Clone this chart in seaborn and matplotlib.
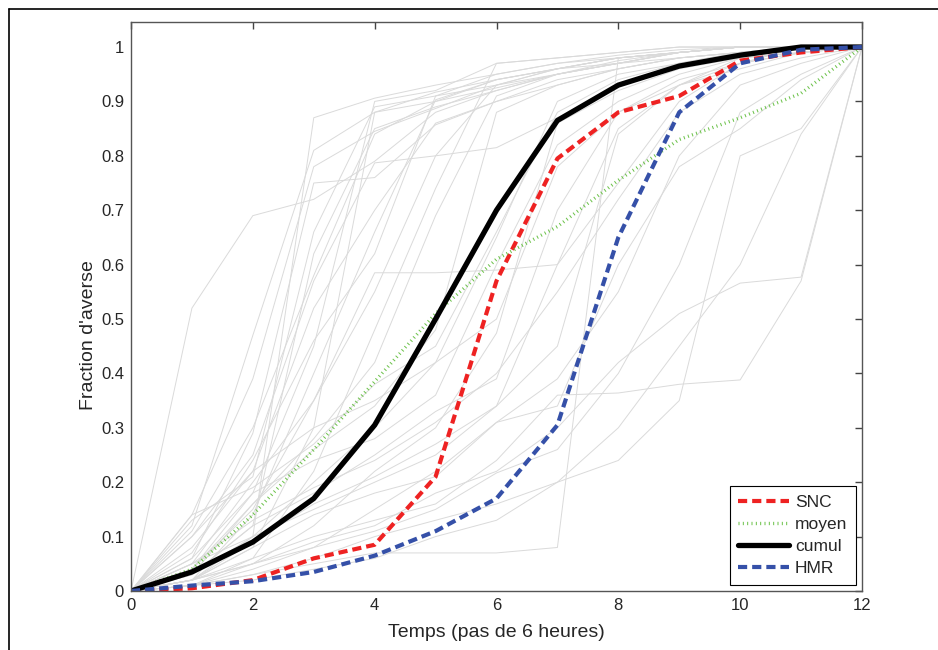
import seaborn as sns
import matplotlib.pyplot as plt
import pandas as pd
from matplotlib.lines import Line2D

# Time steps (6-hour steps)
temps = list(range(13))

# Main curves
snc = [0, 0.005, 0.02, 0.06, 0.085, 0.21, 0.57, 0.795, 0.88, 0.91, 0.975, 0.99, 1.0]
moyen = [0, 0.04, 0.14, 0.26, 0.385, 0.51, 0.61, 0.67, 0.755, 0.83, 0.87, 0.915, 1.0]
cumul = [0, 0.035, 0.09, 0.17, 0.305, 0.5, 0.70, 0.865, 0.93, 0.965, 0.985, 1.0, 1.0]
hmr = [0, 0.01, 0.018, 0.035, 0.065, 0.11, 0.17, 0.305, 0.65, 0.88, 0.97, 0.995, 1.0]

# Individual storms (grey)
storms_fast = [
    [0, .52, .69, .72, .79, .88, .92, .95, .97, .98, .99, 1, 1],
    [0, .05, .10, .87, .906, .93, .95, .97, .98, .99, 1, 1, 1],
    [0, .12, .47, .81, .88, .90, .94, .96, .98, .99, 1, 1, 1],
    [0, .14, .39, .78, .845, .887, .93, .96, .97, .99, 1, 1, 1],
    [0, .06, .29, .75, .76, .857, .90, .94, .96, .98, .99, 1, 1],
    [0, .10, .25, .57, .787, .80, .815, .87, .93, .97, .99, 1, 1],
    [0, .02, .08, .30, .88, .917, .94, .96, .98, .99, 1, 1, 1],
    [0, .04, .18, .45, .90, .92, .97, .98, .99, 1, 1, 1, 1],
    [0, .03, .12, .62, .85, .89, .92, .95, .97, .99, 1, 1, 1],
    [0, .08, .22, .52, .70, .86, .90, .93, .96, .98, .99, 1, 1],
    [0, .02, .14, .40, .66, .903, .94, .96, .98, .99, 1, 1, 1],
    [0, .05, .20, .35, .55, .80, .93, .95, .97, .99, 1, 1, 1],
    [0, .01, .06, .22, .48, .74, .97, .98, .99, 1, 1, 1, 1],
    [0, .11, .30, .58, .84, .90, .925, .95, .975, .99, 1, 1, 1],
    [0, .07, .24, .46, .62, .91, .95, .97, .985, .995, 1, 1, 1],
    [0, .13, .21, .66, .89, .91, .93, .96, .98, .99, 1, 1, 1],
    [0, .04, .16, .28, .42, .69, .91, .95, .97, .99, 1, 1, 1],
]
storms_medium = [
    [0, .04, .15, .35, .585, .585, .59, .60, .75, .90, .97, 1, 1],
    [0, .03, .16, .26, .34, .48, .88, .93, .96, .98, .99, 1, 1],
    [0, .02, .10, .20, .30, .42, .65, .90, .95, .97, .99, 1, 1],
    [0, .06, .18, .24, .28, .36, .60, .82, .90, .95, .98, 1, 1],
    [0, .01, .05, .12, .22, .30, .474, .86, .92, .96, .98, .99, 1],
    [0, .03, .12, .18, .25, .33, .39, .70, .88, .94, .97, .99, 1],
    [0, .02, .09, .16, .21, .27, .34, .60, .85, .93, .97, .99, 1],
    [0, .05, .13, .19, .24, .31, .40, .55, .72, .88, .95, .98, 1],
    [0, .10, .22, .30, .35, .42, .50, .78, .88, .93, .96, .99, 1],
    [0, .14, .19, .27, .38, .45, .66, .88, .94, .97, .99, 1, 1],
]
storms_slow = [
    [0, .01, .03, .05, .07, .07, .07, .08, .98, .99, 1, 1, 1],
    [0, .02, .06, .10, .13, .16, .24, .36, .364, .38, .388, .57, 1],
    [0, .02, .05, .09, .12, .18, .22, .30, .42, .51, .566, .577, 1],
    [0, .01, .04, .08, .15, .22, .31, .39, .55, .80, .93, .97, 1],
    [0, .03, .10, .15, .20, .25, .34, .45, .84, .93, .98, .99, 1],
    [0, .02, .08, .14, .18, .21, .31, .34, .60, .78, .85, .94, 1],
    [0, .01, .03, .06, .10, .13, .16, .20, .24, .35, .80, .85, 1],
    [0, .02, .05, .08, .11, .15, .217, .26, .40, .60, .88, .95, 1],
    [0, .01, .02, .04, .06, .10, .13, .20, .30, .45, .60, .84, 1],
]

rows = []
for i, curve in enumerate(storms_fast + storms_medium + storms_slow):
    for t, v in zip(temps, curve):
        rows.append({'storm': i, 'temps': t, 'frac': v})
df_storms = pd.DataFrame(rows)

sns.set_style("white")
plt.rcParams['font.family'] = ['Liberation Sans', 'DejaVu Sans']

red, green, blue = '#ee2222', '#6cc24a', '#3550a8'
dash = [2.2, 1.2]
dots = [0.3, 1.0]

fig = plt.figure(figsize=(9.38, 6.5), dpi=100)
ax = fig.add_axes([131 / 938, 59 / 650, 731 / 938, 569 / 650])

sns.lineplot(data=df_storms, x='temps', y='frac', units='storm', estimator=None,
             color='#dadada', linewidth=0.7, ax=ax, legend=False)

sns.lineplot(x=temps, y=snc, color=red, linewidth=3.0, ax=ax)
ax.lines[-1].set_dashes(dash)
sns.lineplot(x=temps, y=moyen, color=green, linewidth=2.4, ax=ax)
ax.lines[-1].set_dashes(dots)
sns.lineplot(x=temps, y=cumul, color='black', linewidth=3.8, ax=ax)
sns.lineplot(x=temps, y=hmr, color=blue, linewidth=3.0, ax=ax)
ax.lines[-1].set_dashes(dash)

ax.set_xlim(0, 12)
ax.set_ylim(0, 1.046)
ax.set_xticks(range(0, 13, 2))
ax.set_yticks([i / 10 for i in range(11)])
ax.set_yticklabels(['0'] + [f'0.{i}' for i in range(1, 10)] + ['1'])
ax.tick_params(direction='in', length=5, width=1, color='#444444',
               top=True, right=True, labelsize=12, pad=5)
for s in ax.spines.values():
    s.set_color('#555555')
    s.set_linewidth(1)
ax.set_xlabel('Temps (pas de 6 heures)', fontsize=14, labelpad=8)
ax.set_ylabel("Fraction d'averse", fontsize=14)
ax.yaxis.set_label_coords(-0.047, 0.45)

handles = [
    Line2D([], [], color=red, lw=3.0, dashes=dash),
    Line2D([], [], color=green, lw=2.4, dashes=dots),
    Line2D([], [], color='black', lw=3.8),
    Line2D([], [], color=blue, lw=3.0, dashes=dash),
]
leg = ax.legend(handles, ['SNC', 'moyen', 'cumul', 'HMR'], loc='lower right',
                fontsize=12.5, frameon=True, fancybox=False, framealpha=1,
                edgecolor='black', handlelength=2.9, borderaxespad=0.35,
                labelspacing=0.4, handletextpad=0.35, borderpad=0.5)
leg.get_frame().set_linewidth(0.8)

# Outer frame (left and top edges visible in the original)
fig.add_artist(Line2D([8.5 / 938, 8.5 / 938], [0, 1 - 9 / 650], color='black', lw=1.2))
fig.add_artist(Line2D([8.5 / 938, 1], [1 - 9 / 650, 1 - 9 / 650], color='black', lw=1.2))

fig.savefig('out.png', dpi=100)
